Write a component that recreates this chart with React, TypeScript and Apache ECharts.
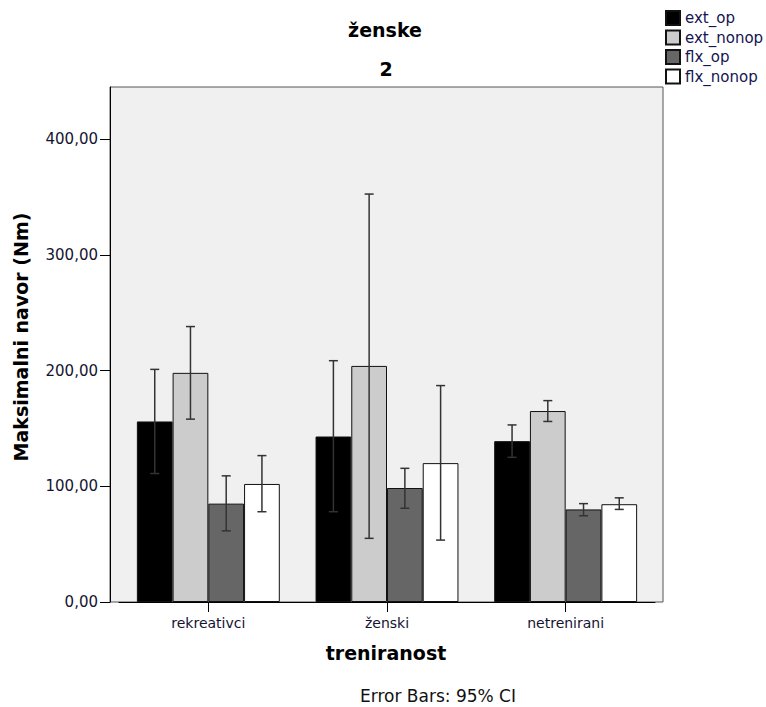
import React, { useEffect, useRef } from "react";
import * as echarts from "echarts";

const categories = ["rekreativci", "ženski", "netrenirani"];
const seriesNames = ["ext_op", "ext_nonop", "flx_op", "flx_nonop"];
const seriesColors = ["#000000", "#cccccc", "#666666", "#ffffff"];

const extOp = [156, 143, 139];
const extOpLow = [111, 78, 125];
const extOpHigh = [201, 208.5, 153];

const extNonop = [198, 204, 165];
const extNonopLow = [158, 55, 156];
const extNonopHigh = [238, 352.5, 174];

const flxOp = [85, 98.5, 80];
const flxOpLow = [61.5, 81, 74.5];
const flxOpHigh = [109, 115.5, 85];

const flxNonop = [102, 120, 84.5];
const flxNonopLow = [78, 53.5, 80];
const flxNonopHigh = [126.5, 187, 90];

const yTicks = [0, 100, 200, 300, 400];

const means = [extOp, extNonop, flxOp, flxNonop];
const lows = [extOpLow, extNonopLow, flxOpLow, flxNonopLow];
const highs = [extOpHigh, extNonopHigh, flxOpHigh, flxNonopHigh];

const FONT = '"DejaVu Sans", sans-serif';

export default function App() {
  const ref = useRef<HTMLDivElement>(null);

  useEffect(() => {
    if (!ref.current) return;
    const chart = echarts.init(ref.current, null, { renderer: "svg" });

    const barSeries = seriesNames.map((name, i) => ({
      name,
      type: "bar",
      data: means[i],
      barGap: "0%",
      barCategoryGap: "20%",
      itemStyle: { color: seriesColors[i], borderColor: "#111", borderWidth: 1 },
      z: 2,
    }));

    const errSeries = seriesNames.map((name, i) => ({
      name: name + "_ci",
      type: "custom",
      z: 4,
      data: categories.map((_, c) => [c, lows[i][c], highs[i][c]]),
      renderItem: (params: any, api: any) => {
        const c = api.value(0);
        const lo = api.coord([c, api.value(1)]);
        const hi = api.coord([c, api.value(2)]);
        const band = api.size([1, 0])[0];
        const bw = (band * 0.8) / 4;
        const x = lo[0] + (i - 1.5) * bw;
        const cap = 4.5;
        const st = { stroke: "#333", lineWidth: 1.5 };
        return {
          type: "group",
          children: [
            { type: "line", shape: { x1: x, y1: lo[1], x2: x, y2: hi[1] }, style: st },
            { type: "line", shape: { x1: x - cap, y1: lo[1], x2: x + cap, y2: lo[1] }, style: st },
            { type: "line", shape: { x1: x - cap, y1: hi[1], x2: x + cap, y2: hi[1] }, style: st },
          ],
        };
      },
    }));

    const option: any = {
      animation: false,
      backgroundColor: "#ffffff",
      textStyle: { fontFamily: FONT },
      grid: { left: 119, right: 111, top: 87, bottom: 105, containLabel: false },
      legend: {
        data: seriesNames,
        orient: "vertical",
        left: 665,
        top: 10,
        itemWidth: 14,
        itemHeight: 14,
        itemGap: 3.5,
        padding: 0,
        icon: "rect",
        textStyle: { fontSize: 15, color: "#141450", fontFamily: FONT, lineHeight: 14 },
      },
      xAxis: {
        type: "category",
        data: categories,
        axisLine: { show: true, lineStyle: { color: "#000", width: 1 } },
        axisTick: { show: true, alignWithLabel: true, length: 10, lineStyle: { color: "#000" } },
        axisLabel: { fontSize: 14, color: "#141430", margin: 14, fontFamily: FONT },
      },
      yAxis: {
        type: "value",
        min: 0,
        max: 445,
        interval: 100,
        offset: 9,
        splitLine: { show: false },
        axisLine: { show: true, lineStyle: { color: "#000", width: 1 } },
        axisTick: { show: true, length: 10, lineStyle: { color: "#000" }, customValues: yTicks },
        axisLabel: {
          fontSize: 15,
          color: "#141430",
          margin: 12,
          fontFamily: FONT,
          customValues: yTicks,
          formatter: (v: number) => v.toFixed(2).replace(".", ","),
        },
      },
      graphic: [
        {
          type: "rect",
          z: -1,
          silent: true,
          shape: { x: 110, y: 87, width: 553, height: 515 },
          style: { fill: "#f0f0f0", stroke: "#555", lineWidth: 1 },
        },
        {
          type: "text",
          x: 385,
          y: 30,
          style: { text: "ženske", fontSize: 19, fontWeight: "bold", fontFamily: FONT, fill: "#000", align: "center", verticalAlign: "middle" },
        },
        {
          type: "text",
          x: 386,
          y: 69,
          style: { text: "2", fontSize: 19, fontWeight: "bold", fontFamily: FONT, fill: "#000", align: "center", verticalAlign: "middle" },
        },
        {
          type: "text",
          x: 21,
          y: 337,
          rotation: Math.PI / 2,
          style: { text: "Maksimalni navor (Nm)", fontSize: 19, fontWeight: "bold", fontFamily: FONT, fill: "#000", align: "center", verticalAlign: "middle" },
        },
        {
          type: "text",
          x: 386,
          y: 653,
          style: { text: "treniranost", fontSize: 19, fontWeight: "bold", fontFamily: FONT, fill: "#000", align: "center", verticalAlign: "middle" },
        },
        {
          type: "text",
          x: 438,
          y: 696,
          style: { text: "Error Bars: 95% CI", fontSize: 17, fontFamily: FONT, fill: "#111", align: "center", verticalAlign: "middle" },
        },
      ],
      series: [...barSeries, ...errSeries],
    };

    chart.setOption(option);
    return () => chart.dispose();
  }, []);

  return (
    <div
      ref={ref}
      style={{ position: "fixed", left: 0, top: 0, width: 766, height: 707 }}
    />
  );
}
